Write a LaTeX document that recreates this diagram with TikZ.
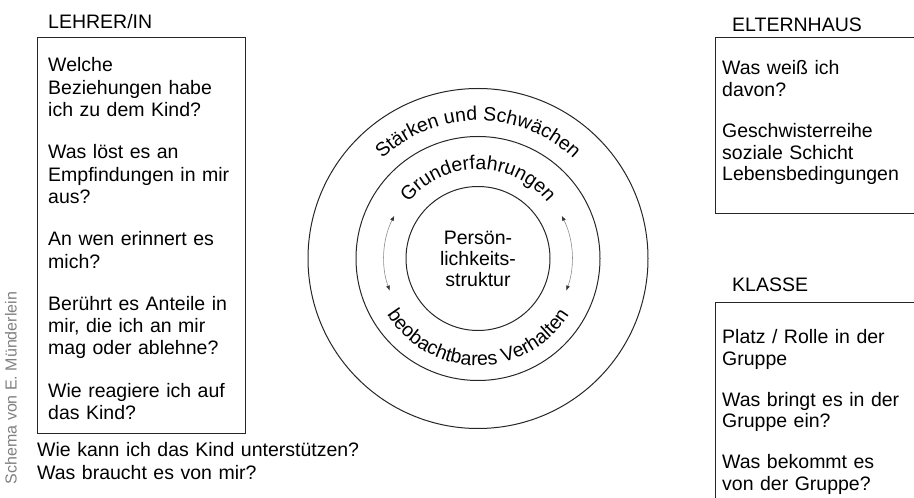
\documentclass[tikz,border=0pt]{standalone}
\usepackage{fontspec}
\setmainfont{Liberation Sans}
\usetikzlibrary{decorations.text,arrows.meta}
\tikzset{
  boxline/.style={line width=0.9pt, black!85},
  ring/.style={line width=1pt, black!85},
  para/.style={inner sep=0pt, anchor=base west, align=left, text width=#1,
    font=\fontsize{19.5}{22.3}\selectfont},
  parar/.style={inner sep=0pt, anchor=base west, align=left, text width=#1,
    font=\fontsize{19.5}{21.5}\selectfont},
  title/.style={inner sep=0pt, anchor=base west, font=\fontsize{19.5}{22}\selectfont},
  cycle/.style={line width=0.6pt, black!45,
    {Latex[length=5pt,width=4pt,black!80]}-{Latex[length=5pt,width=4pt,black!80]}},
}
\begin{document}
\begin{tikzpicture}[x=1pt,y=1pt]
\useasboundingbox (0,0) rectangle (914,498);
% ---------- left box ----------
\node[title] (tL) at (48,469) {LEHRER/IN};
\draw[boxline] (37,65) rectangle (245,461);
\node[para=195pt] (pL) at (48,426) {Welche\\Beziehungen habe\\ich zu dem Kind?\\[20pt]Was löst es an\\Empfindungen in mir\\aus?\\[20pt]An wen erinnert es\\mich?\\[20pt]Berührt es Anteile in\\mir, die ich an mir\\mag oder ablehne?\\[20pt]Wie reagiere ich auf\\das Kind?};
\node[para=340pt] (pB) at (37,41) {Wie kann ich das Kind unterstützen?\\Was braucht es von mir?};
% ---------- credit ----------
\node[rotate=90, inner sep=0pt, font=\fontsize{16}{16}\selectfont, text=black!50] (credit) at (11,110) {Schema von E. Münderlein};
% ---------- right boxes ----------
\node[title] (tE) at (732,466) {ELTERNHAUS};
\draw[boxline] (916,461) -- (715,461) -- (715,285) -- (916,285);
\node[parar=195pt] (pE) at (722,423) {Was weiß ich\\davon?\\[20pt]Geschwisterreihe\\soziale Schicht\\Lebensbedingungen};
\node[title] (tK) at (732,206) {KLASSE};
\draw[boxline] (916,196) -- (715,196) -- (715,-2);
\node[parar=195pt] (pK) at (722,154) {Platz / Rolle in der\\Gruppe\\[19.5pt]Was bringt es in der\\Gruppe ein?\\[19.5pt]Was bekommt es\\von der Gruppe?};
% ---------- circles ----------
\coordinate (c) at (478,239.5);
\draw[ring] (c) circle[radius=170];
\draw[ring] (c) circle[radius=122];
\draw[ring] (c) circle[radius=72];
\node[inner sep=0pt, align=center, font=\fontsize{19.5}{21}\selectfont] (core) at (c) {Persön-\\lichkeits-\\struktur};
\path[decorate, decoration={text along path, text align=center,
  text={|\fontsize{19.5}{22}\selectfont|St{ä}rken und Schw{ä}chen}}]
  (c) ++(178:138) arc[start angle=178, end angle=2, radius=138];
\path[decorate, decoration={text along path, text align=center,
  text={|\fontsize{19.5}{22}\selectfont|Grunderfahrungen}}]
  (c) ++(178:89) arc[start angle=178, end angle=2, radius=89];
\path[decorate, decoration={text along path, text align=center,
  text={|\fontsize{19.5}{22}\selectfont|beobachtbares Verhalten}}]
  (c) ++(182:107) arc[start angle=182, end angle=358, radius=107];
\draw[cycle] (c) ++(153:94) arc[start angle=153, end angle=200, radius=94];
\draw[cycle] (c) ++(-20:94) arc[start angle=-20, end angle=27, radius=94];
\end{tikzpicture}
\end{document}
